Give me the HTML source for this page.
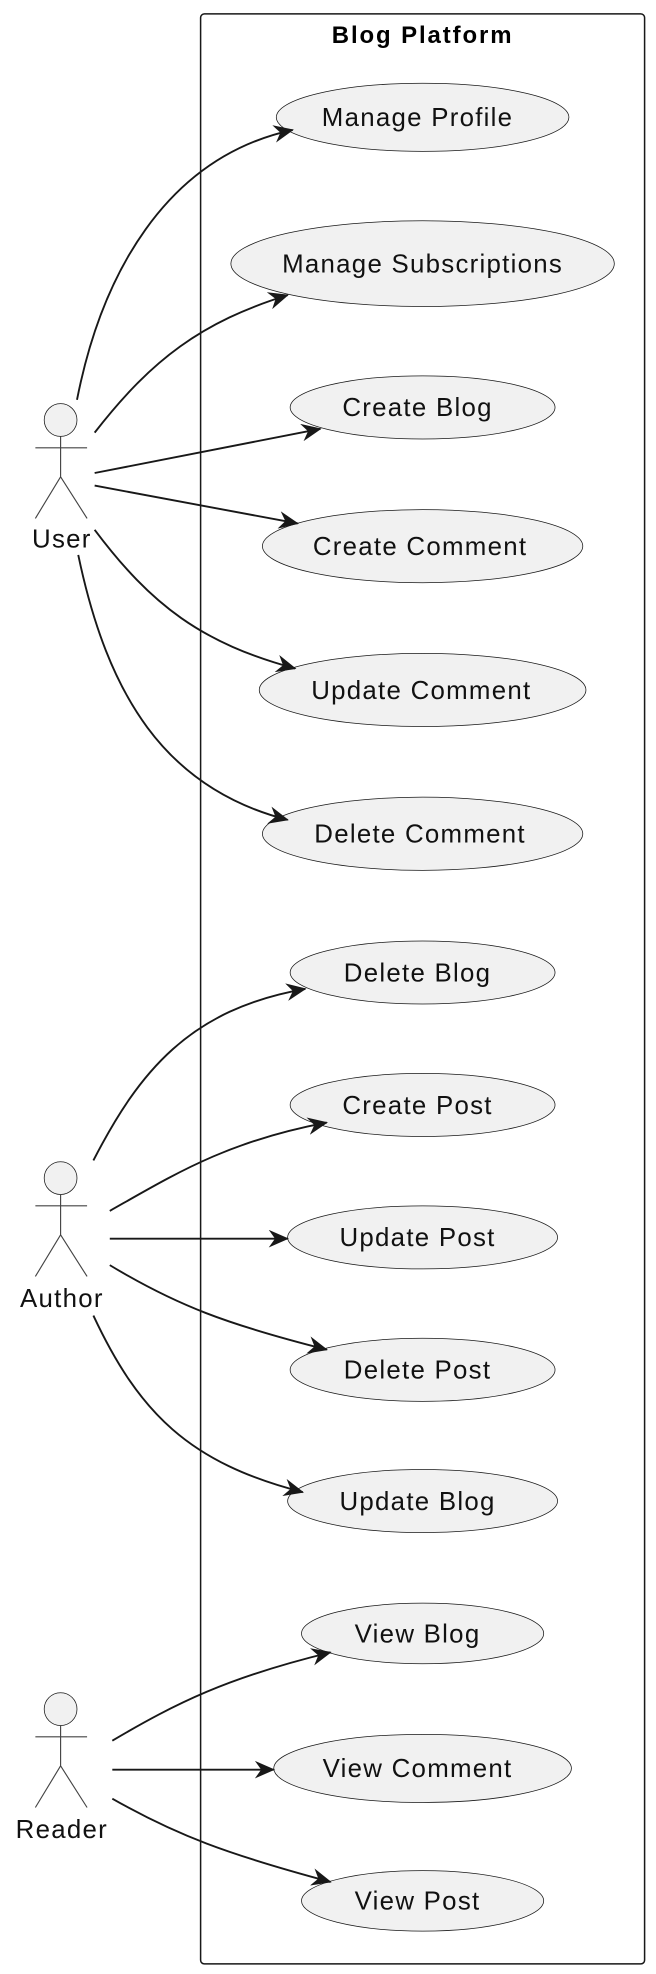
<!DOCTYPE html>
<html><head><style>html,body{margin:0;padding:0;background:#fff}svg{display:block}</style></head>
<body>
<svg width="656" height="1974" viewBox="0 0 520 1565" xmlns="http://www.w3.org/2000/svg" font-family="Liberation Sans, sans-serif">
<defs>
<marker id="a" viewBox="0 0 16 14" refX="15" refY="7" markerWidth="16" markerHeight="14" markerUnits="userSpaceOnUse" orient="auto">
<path d="M0,0 L16,7 L0,14 L5,7 Z" fill="#181818"/>
</marker>
</defs>
<rect x="159" y="11" width="352" height="1546" rx="3" fill="none" stroke="#181818" stroke-width="1.2"/>
<text x="335" y="34" text-anchor="middle" font-size="19" font-weight="bold" letter-spacing="1.5">Blog Platform</text>
<g fill="#f1f1f1" stroke="#181818" stroke-width="0.6">
<ellipse cx="335" cy="93" rx="116" ry="27"/>
<ellipse cx="335" cy="209" rx="152" ry="34"/>
<ellipse cx="335" cy="323" rx="105" ry="25"/>
<ellipse cx="335" cy="433" rx="127" ry="29"/>
<ellipse cx="335" cy="547" rx="129.5" ry="29"/>
<ellipse cx="335" cy="661" rx="127" ry="29"/>
<ellipse cx="335" cy="771" rx="105" ry="25"/>
<ellipse cx="335" cy="876" rx="105" ry="25"/>
<ellipse cx="335" cy="981" rx="107" ry="25"/>
<ellipse cx="335" cy="1086" rx="105" ry="25"/>
<ellipse cx="335" cy="1190" rx="107" ry="25"/>
<ellipse cx="335" cy="1295" rx="96" ry="24"/>
<ellipse cx="335" cy="1402" rx="118" ry="27"/>
<ellipse cx="335" cy="1507" rx="96" ry="24"/>
</g>
<g font-size="20.5" text-anchor="middle" fill="#111" letter-spacing="1">
<text x="331" y="100">Manage Profile</text>
<text x="335" y="216">Manage Subscriptions</text>
<text x="331" y="330">Create Blog</text>
<text x="333" y="440">Create Comment</text>
<text x="334" y="554">Update Comment</text>
<text x="333" y="668">Delete Comment</text>
<text x="331" y="778">Delete Blog</text>
<text x="331" y="883">Create Post</text>
<text x="331" y="988">Update Post</text>
<text x="331" y="1093">Delete Post</text>
<text x="331" y="1197">Update Blog</text>
<text x="331" y="1302">View Blog</text>
<text x="331" y="1409">View Comment</text>
<text x="331" y="1514">View Post</text>
</g>
<g fill="#f1f1f1" stroke="#181818" stroke-width="0.6">
<circle cx="48" cy="333" r="13"/>
<circle cx="48" cy="934" r="13"/>
<circle cx="48" cy="1355" r="13"/>
</g>
<g fill="none" stroke="#444" stroke-width="0.9">
<path d="M48,346 V378 M28,355 H69 M28,411 L48,378 L69,411"/>
<path d="M48,947 V979 M28,956 H69 M28,1012 L48,979 L69,1012"/>
<path d="M48,1368 V1400 M28,1377 H69 M28,1433 L48,1400 L69,1433"/>
</g>
<g font-size="20.5" text-anchor="middle" fill="#111" letter-spacing="1">
<text x="49" y="434">User</text>
<text x="49" y="1036">Author</text>
<text x="49" y="1457">Reader</text>
</g>
<g fill="none" stroke="#181818" stroke-width="1.5" marker-end="url(#a)">
<path d="M61,317 C80,220 130,125 232,103"/>
<path d="M75,343 C120,285 160,255 228,234"/>
<path d="M75,375 L254,340"/>
<path d="M75,385 L236,415"/>
<path d="M75,420 C120,480 160,510 234,530"/>
<path d="M62,440 C85,550 130,625 228,650"/>
<path d="M74,920 C110,850 150,800 242,784"/>
<path d="M87,960 C140,930 180,905 259,890"/>
<path d="M87,982 L228,982"/>
<path d="M87,1003 C140,1035 180,1050 259,1070"/>
<path d="M74,1043 C110,1120 150,1160 240,1183"/>
<path d="M89,1380 C140,1350 180,1330 262,1310"/>
<path d="M89,1403 L217,1403"/>
<path d="M89,1426 C140,1455 180,1470 262,1492"/>
</g>
</svg>
</body></html>
